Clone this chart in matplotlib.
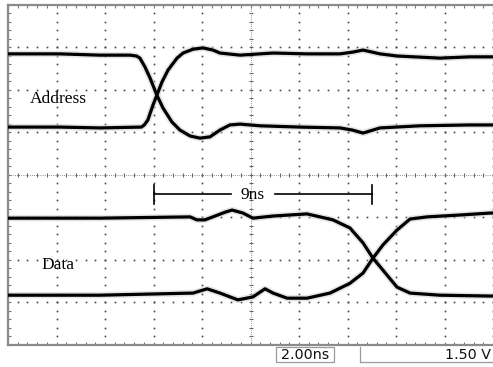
import matplotlib

matplotlib.use("Agg")
import matplotlib.pyplot as plt  # noqa: E402
import numpy as np  # noqa: E402
from matplotlib.patches import Rectangle  # noqa: E402
from matplotlib.ticker import MultipleLocator, NullFormatter  # noqa: E402

# time axis in ns (2.00 ns/div), vertical axis in screen divisions
addr_hi_t = [0.00, 2.14, 3.79, 5.03, 5.30, 5.44, 5.65, 5.86, 6.14, 6.39, 6.76, 7.09,
             7.51, 7.92, 8.33, 8.74, 9.15, 9.57, 10.39, 12.04, 13.69, 14.20, 14.64,
             15.34, 16.99, 19.05, 20.29]
addr_hi_v = [2.84, 2.84, 2.81, 2.81, 2.79, 2.74, 2.53, 2.27, 1.87, 1.57, 1.24, 1.05,
             0.91, 0.86, 0.89, 1.05, 1.17, 1.19, 1.15, 1.12, 1.10, 1.05, 0.98,
             1.10, 1.15, 1.17, 1.17]

addr_lo_t = [0.00, 2.14, 3.79, 5.50, 5.62, 5.77, 5.98, 6.14, 6.35, 6.60, 6.97, 7.22,
             7.63, 8.04, 8.45, 8.74, 9.57, 10.93, 12.33, 13.69, 14.20, 14.64, 15.34,
             16.04, 17.81, 19.05, 20.29]
addr_lo_v = [1.12, 1.12, 1.10, 1.12, 1.17, 1.29, 1.64, 1.87, 2.18, 2.46, 2.74, 2.86,
             2.95, 2.98, 2.93, 2.86, 2.81, 2.86, 2.84, 2.84, 2.88, 2.93, 2.84,
             2.79, 2.74, 2.77, 2.77]

data_hi_t = [0.00, 3.79, 7.51, 7.79, 8.12, 8.54, 8.95, 9.24, 9.69, 10.10, 10.93,
             12.33, 13.40, 14.10, 14.64, 15.05, 15.46, 16.04, 16.58, 17.81, 19.88, 20.29]
data_hi_v = [-1.02, -1.02, -0.99, -1.06, -1.06, -0.97, -0.88, -0.83, -0.90, -1.02, -0.97,
             -0.92, -1.06, -1.25, -1.60, -1.96, -2.24, -2.64, -2.78, -2.83, -2.85, -2.85]

data_lo_t = [0.00, 3.79, 7.63, 8.21, 8.74, 9.48, 10.10, 10.60, 10.93, 11.51, 12.33,
             13.28, 14.10, 14.64, 15.05, 15.46, 16.04, 16.58, 17.28, 18.52, 19.88, 20.29]
data_lo_v = [-2.83, -2.83, -2.78, -2.68, -2.78, -2.94, -2.87, -2.68, -2.78, -2.90, -2.90,
             -2.78, -2.55, -2.31, -1.96, -1.65, -1.30, -1.04, -0.99, -0.95, -0.90, -0.90]

skew_start = 6.0   # ns
skew_ns = 9.0
skew_level = -0.45

time_per_div = "2.00ns"
volts_per_div = "1.50 V"

W, H = 493, 367
fig = plt.figure(figsize=(W / 100, H / 100), dpi=100)
ax = fig.add_axes([8 / W, (H - 345) / H, 492 / W, 340.5 / H])
ax.set_xlim(0, 492 / 48.5 * 2)
ax.set_ylim(-4, 4)

# graticule: dotted division lines, finer centre lines with tick marks
minor_x = np.arange(0, 20.3, 0.4)
minor_y = np.arange(-4, 4.01, 0.2)
for gx in [2, 4, 6, 8, 12, 14, 16, 18, 20]:
    ax.plot(np.full_like(minor_y, gx), minor_y, ls="none", marker="s", ms=1.2,
            mew=0, color="#444", zorder=1)
for gy in [-3, -2, -1, 1, 2, 3]:
    ax.plot(minor_x, np.full_like(minor_x, gy), ls="none", marker="s", ms=1.2,
            mew=0, color="#444", zorder=1)
ax.axhline(0, color="#777", lw=0.7, ls=(0, (0.8, 1.4)), zorder=1)
ax.axvline(10, color="#777", lw=0.7, ls=(0, (0.8, 1.4)), zorder=1)
ax.plot(minor_x, np.zeros_like(minor_x), ls="none", marker="|", ms=3.5, mew=0.8,
        color="#666", zorder=1)
ax.plot(np.full_like(minor_y, 10), minor_y, ls="none", marker="_", ms=3.5, mew=0.8,
        color="#666", zorder=1)

for sp in ax.spines.values():
    sp.set_color("#8a8a8a")
    sp.set_linewidth(1.6)
ax.spines["right"].set_visible(False)
ax.xaxis.set_major_locator(MultipleLocator(2))
ax.xaxis.set_minor_locator(MultipleLocator(0.4))
ax.yaxis.set_major_locator(MultipleLocator(1))
ax.yaxis.set_minor_locator(MultipleLocator(0.2))
for axis in (ax.xaxis, ax.yaxis):
    axis.set_major_formatter(NullFormatter())
    axis.set_minor_formatter(NullFormatter())
ax.tick_params(which="both", direction="in", top=True, bottom=True, left=True,
               right=False, length=2.4, width=0.8, color="#777")

# traces: soft grey glow under a thick black line
for t, v in [(addr_hi_t, addr_hi_v), (addr_lo_t, addr_lo_v),
             (data_hi_t, data_hi_v), (data_lo_t, data_lo_v)]:
    ax.plot(t, v, color="#cfcfcf", lw=4.6, alpha=0.55, solid_capstyle="round",
            solid_joinstyle="round", zorder=2)
    ax.plot(t, v, color="black", lw=2.3, solid_capstyle="round",
            solid_joinstyle="round", zorder=3)

serif = dict(family="Liberation Serif", fontsize=12.5, color="black")
ax.text(0.9, 1.69, "Address", ha="left", va="baseline", **serif)
ax.text(1.4, -2.21, "Data", ha="left", va="baseline", **serif)

# skew marker
skew_end = skew_start + skew_ns
label_x = 10.1
gap = 0.9
ax.plot([skew_start, label_x - gap], [skew_level, skew_level], color="black", lw=1.2)
ax.plot([label_x + gap, skew_end], [skew_level, skew_level], color="black", lw=1.2)
for xe in (skew_start, skew_end):
    ax.plot([xe, xe], [skew_level + 0.22, skew_level - 0.24], color="black", lw=1.2)
ax.text(label_x, skew_level - 0.12, f"{skew_ns:.0f}ns", ha="center", va="baseline",
        **serif)


def fpx(x, y):
    return x / W, 1 - y / H


# readout strip under the screen
x0, y0 = fpx(276, 362)
fig.add_artist(Rectangle((x0, y0), 58 / W, 15 / H, transform=fig.transFigure,
                         fill=False, edgecolor="#9a9a9a", lw=0.9))
fig.text(*fpx(305, 355), time_per_div, ha="center", va="center",
         family="DejaVu Sans", fontsize=10.3, color="#111")
fig.add_artist(plt.Line2D([360 / W, 360 / W], [1 - 347 / H, 1 - 362 / H],
                          transform=fig.transFigure, color="#9a9a9a", lw=0.9))
fig.add_artist(plt.Line2D([360 / W, 1.0], [1 - 362 / H, 1 - 362 / H],
                          transform=fig.transFigure, color="#9a9a9a", lw=0.9))
fig.text(*fpx(491, 355), volts_per_div, ha="right", va="center",
         family="DejaVu Sans", fontsize=10.3, color="#111")

fig.savefig("out.png", dpi=100, facecolor="white")
plt.close(fig)
